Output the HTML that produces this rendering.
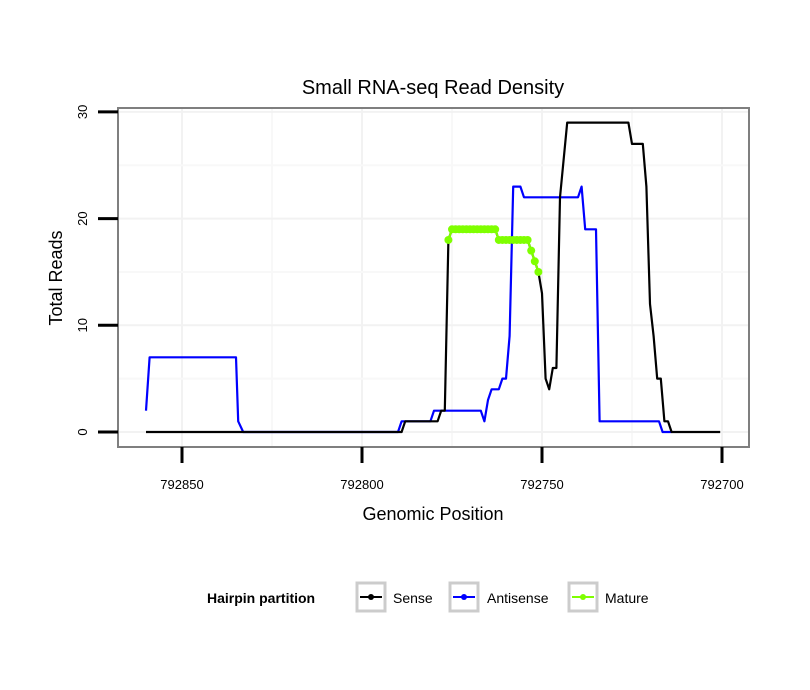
<!DOCTYPE html>
<html><head><meta charset="utf-8"><style>
html,body{margin:0;padding:0;background:#fff;}
svg{display:block;font-family:"Liberation Sans",Arial,sans-serif;}
</style></head><body>
<svg id="chart" width="810" height="690" viewBox="0 0 810 690">
<text x="433" y="94" font-size="20" text-anchor="middle">Small RNA-seq Read Density</text>
<g id="grid"></g>
<g id="series"></g>
<rect x="118" y="108" width="631" height="339" fill="none" stroke="#7f7f7f" stroke-width="2"/>
<g id="axes"></g>
<text x="433" y="520" font-size="18" text-anchor="middle">Genomic Position</text>
<text transform="translate(62,278) rotate(-90)" font-size="18" text-anchor="middle">Total Reads</text>
<g>
<text x="207" y="603" font-size="14" font-weight="bold">Hairpin partition</text>
<g>
<rect x="357" y="583" width="28" height="28" fill="#fff" stroke="#cccccc" stroke-width="3"/>
<line x1="360" y1="597" x2="382" y2="597" stroke="#000" stroke-width="2"/><circle cx="371" cy="597" r="3" fill="#000"/>
<text x="393" y="603" font-size="14">Sense</text></g>
<g>
<rect x="450" y="583" width="28" height="28" fill="#fff" stroke="#cccccc" stroke-width="3"/>
<line x1="453" y1="597" x2="475" y2="597" stroke="#0000ff" stroke-width="2"/><circle cx="464" cy="597" r="3" fill="#0000ff"/>
<text x="487" y="603" font-size="14">Antisense</text></g>
<g>
<rect x="569" y="583" width="28" height="28" fill="#fff" stroke="#cccccc" stroke-width="3"/>
<line x1="572" y1="597" x2="594" y2="597" stroke="#7fff00" stroke-width="2"/><circle cx="583" cy="597" r="3" fill="#7fff00"/>
<text x="605" y="603" font-size="14">Mature</text></g>
</g>
</svg>
<script>
const senseX=[792860,792789,792788,792779,792778,792777,792776,792775,792763,792762,792754,792753,792752,792751,792750,792749,792748,792747,792746,792745,792743,792726,792725,792722,792721,792720,792719,792718,792717,792716,792715,792714,792700.5];
const senseY=[0,0,1,1,2,2,18,19,19,18,18,17,16,15,13,5,4,6,6,22,29,29,27,27,23,12,9,5,5,1,1,0,0];
const antiX=[792860,792859,792835,792834.4,792833,792790,792789,792781,792780,792767,792766,792765,792764,792762,792761,792760,792759,792758,792756,792755,792741,792740,792739,792738,792735,792734,792717.5,792716.5,792714];
const antiY=[2,7,7,1,0,0,1,1,2,2,1,3,4,4,5,5,9,23,23,22,22,22,23,19,19,1,1,0,0];
const matureX=[792776,792775,792774,792773,792772,792771,792770,792769,792768,792767,792766,792765,792764,792763,792762,792761,792760,792759,792758,792757,792756,792755,792754,792753,792752,792751];
const matureY=[18,19,19,19,19,19,19,19,19,19,19,19,19,19,18,18,18,18,18,18,18,18,18,17,16,15];
const xTicks=[792850,792800,792750,792700];
const yTicks=[0,10,20,30];
const NS="http://www.w3.org/2000/svg";
const sx=p=>182+(792850-p)*3.6;
const sy=v=>432-v*10.67;
function mk(t,a,parent){const e=document.createElementNS(NS,t);for(const k in a)e.setAttribute(k,a[k]);parent.appendChild(e);return e;}
const grid=document.getElementById('grid'),axes=document.getElementById('axes'),ser=document.getElementById('series');
mk('rect',{x:118,y:108,width:631,height:339,fill:'#fff'},grid);
for(let i=0;i<xTicks.length;i++){
 const x=sx(xTicks[i]);
 const g=mk('line',{x1:x,x2:x,y1:108,y2:447,stroke:'#f2f2f2','stroke-width':2},grid);
 
 
 if(i<xTicks.length-1){const xm=sx((xTicks[i]+xTicks[i+1])/2);mk('line',{x1:xm,x2:xm,y1:108,y2:447,stroke:'#f8f8f8','stroke-width':2},grid);}
 const t=mk('line',{x1:x,x2:x,y1:447,y2:463,stroke:'#000','stroke-width':3},axes);
 
 
 const l=mk('text',{x:x,y:489,'font-size':13,'text-anchor':'middle'},axes);l.textContent=xTicks[i];
 
 
}
for(let i=0;i<yTicks.length;i++){
 const y=sy(yTicks[i]);
 const g=mk('line',{x1:118,x2:749,y1:y,y2:y,stroke:'#f2f2f2','stroke-width':2},grid);
 
 
 if(i<yTicks.length-1){const ym=sy((yTicks[i]+yTicks[i+1])/2);mk('line',{x1:118,x2:749,y1:ym,y2:ym,stroke:'#f8f8f8','stroke-width':2},grid);}
 const t=mk('line',{x1:98,x2:118,y1:y,y2:y,stroke:'#000','stroke-width':3},axes);
 
 
 const l=mk('text',{transform:`translate(87,${y}) rotate(-90)`,'font-size':13,'text-anchor':'middle'},axes);l.textContent=yTicks[i];
 
 
}
function path(xs,ys,color,name){
 const d=xs.map((p,i)=>(i?'L':'M')+sx(p).toFixed(1)+','+sy(ys[i]).toFixed(1)).join('');
 const e=mk('path',{d:d,fill:'none',stroke:color,'stroke-width':2.2,'stroke-linejoin':'round'},ser);
 
 
}
path(antiX,antiY,'#0000ff','antisense-line');
path(senseX,senseY,'#000','sense-line');
path(matureX,matureY,'#7fff00','mature-line');
for(let i=0;i<matureX.length;i++){
 const c=mk('circle',{cx:sx(matureX[i]),cy:sy(matureY[i]),r:4,fill:'#7fff00'},ser);
 
 
}
</script>
</body></html>
